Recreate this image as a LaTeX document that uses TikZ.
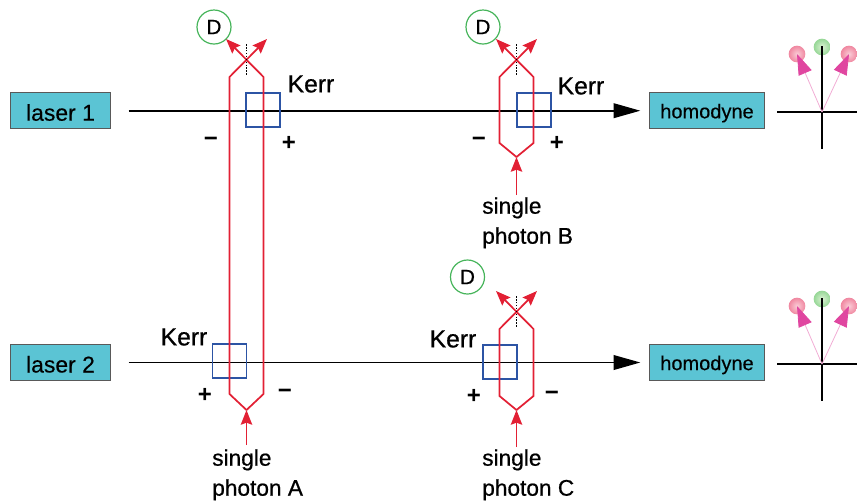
\documentclass[tikz,border=0pt]{standalone}
\usepackage{fontspec}
\setmainfont{Liberation Sans}
\newfontfamily\heavyfont[FakeBold=0.7]{Liberation Sans}
\newfontfamily\mediumfont[FakeBold=0.3]{Liberation Sans}
\usepackage{xcolor}
\usetikzlibrary{arrows.meta,positioning,shapes,calc}
\definecolor{boxteal}{RGB}{91,196,212}
\definecolor{armred}{RGB}{226,32,52}
\definecolor{kerrblue}{RGB}{44,84,164}
\definecolor{detgreen}{RGB}{70,180,90}
\definecolor{phasorpink}{RGB}{224,70,160}
\definecolor{ballpinkin}{RGB}{250,205,215}
\definecolor{ballpinkout}{RGB}{240,135,160}
\definecolor{ballgreenin}{RGB}{220,242,212}
\definecolor{ballgreenout}{RGB}{150,215,150}

\begin{document}
\begin{tikzpicture}[x=0.75pt, y=-0.75pt,
    box/.style={rectangle, draw=black!65, fill=boxteal, line width=0.8pt, minimum height=27pt, inner sep=0pt},
    laserbox/.style={box, minimum width=74.5pt, text height=17pt, text depth=2pt, font=\mediumfont\fontsize{17.2}{17.2}\selectfont},
    homodynebox/.style={box, minimum width=86.25pt, text height=15pt, text depth=3.6pt, font=\mediumfont\fontsize{15}{15}\selectfont},
    beam/.style={-{Triangle[length=20pt, width=11pt]}, line width=1.2pt},
    kerrbox/.style={rectangle, draw=kerrblue, line width=1.1pt, minimum size=25.5pt, inner sep=0pt},
    arm/.style={-{Stealth[length=11pt, width=8.5pt, inset=1.5pt]}, armred, line width=1.3pt},
    detector/.style={circle, draw=detgreen, line width=0.9pt, minimum size=25.5pt, inner sep=0pt, font=\heavyfont\fontsize{15.5}{15.5}\selectfont},
    axis/.style={black, line width=1.2pt},
    phasor/.style={-{Triangle[length=15.5pt, width=10.5pt, color=phasorpink]}, phasorpink!45, line width=0.6pt},
    ballpink/.style={circle, minimum size=12.5pt, inner sep=0pt, shading=radial, inner color=ballpinkin, outer color=ballpinkout},
    ballgreen/.style={circle, minimum size=12.5pt, inner sep=0pt, shading=radial, inner color=ballgreenin, outer color=ballgreenout},
    kerrlabel/.style={font=\heavyfont\fontsize{18.5}{18.5}\selectfont},
    signlabel/.style={font=\fontsize{18}{18}\selectfont\bfseries},
    photonlabel/.style={font=\heavyfont\fontsize{17}{22.5}\selectfont, align=left, anchor=north west, inner sep=0pt}
]
    \useasboundingbox (0,0) rectangle (857,501);

    % Lasers and homodyne boxes
    \node[laserbox] (laser1) at (60.5,110.7) {laser 1\hspace{9pt}};
    \node[laserbox] (laser2) at (60.5,362.5) {laser 2\hspace{9pt}};
    \node[homodynebox] (homodyne1) at (707,110.7) {homodyne\hspace{1.5pt}};
    \node[homodynebox] (homodyne2) at (707,362.5) {homodyne\hspace{1.5pt}};

    % Probe beams
    \draw[beam, shorten <=13.5pt, shorten >=6.5pt] (laser1) -- (homodyne1);
    \draw[beam, shorten <=13.5pt, shorten >=6.5pt] (laser2) -- (homodyne2);

    % Kerr cells
    \node[kerrbox] (kerrA1) at (263,110) {};
    \node[kerrbox] (kerrB) at (534,110) {};
    \node[kerrbox] (kerrA2) at (229.5,361) {};
    \node[kerrbox] (kerrC) at (500,362) {};
    \node[kerrlabel] (kerrtextA1) at (311,84) {Kerr};
    \node[kerrlabel] (kerrtextB) at (581,86) {Kerr};
    \node[kerrlabel] (kerrtextA2) at (184,337) {Kerr};
    \node[kerrlabel] (kerrtextC) at (453,339) {Kerr};

    % Ports of the interferometers
    \coordinate (inA) at (246.5,445);
    \coordinate (botA) at (246.5,410);
    \coordinate (outAl) at (226,39);
    \coordinate (outAr) at (267,39);
    \coordinate (inB) at (516.5,195);
    \coordinate (botB) at (516.5,157);
    \coordinate (outBl) at (496,39);
    \coordinate (outBr) at (537,39);
    \coordinate (inC) at (516.5,447);
    \coordinate (botC) at (516.5,410);
    \coordinate (outCl) at (496,291);
    \coordinate (outCr) at (537,291);

    % Interferometer A
    \draw[arm] (inA) -- (botA);
    \draw[arm] (botA) -- (229.5,394) -- (229.5,77) -- (outAr);
    \draw[arm] (botA) -- (263.5,394) -- (263.5,77) -- (outAl);
    \draw[densely dotted, line width=1.2pt] (246.5,44) -- (246.5,76);

    % Interferometer B
    \draw[arm] (inB) -- (botB);
    \draw[arm] (botB) -- (499.5,143) -- (499.5,77) -- (outBr);
    \draw[arm] (botB) -- (533.5,143) -- (533.5,77) -- (outBl);
    \draw[densely dotted, line width=1.2pt] (516.5,44) -- (516.5,76);

    % Interferometer C
    \draw[arm] (inC) -- (botC);
    \draw[arm] (botC) -- (499.5,396) -- (499.5,329) -- (outCr);
    \draw[arm] (botC) -- (533.5,396) -- (533.5,329) -- (outCl);
    \draw[densely dotted, line width=1.2pt] (516.5,296) -- (516.5,328);

    % Detectors
    \node[detector] (detA) at (214,27) {D};
    \node[detector] (detB) at (483,27) {D};
    \node[detector] (detC) at (467.5,277) {D};

    % Signs
    \node[signlabel] (minusA1) at (211,142) {−};
    \node[signlabel] (plusA1) at (289,143) {+};
    \node[signlabel] (minusB) at (479,142) {−};
    \node[signlabel] (plusB) at (557,143) {+};
    \node[signlabel] (plusA2) at (205,395) {+};
    \node[signlabel] (minusA2) at (285,394) {−};
    \node[signlabel] (plusC) at (474,396) {+};
    \node[signlabel] (minusC) at (552,396) {−};

    % Input labels
    \node[photonlabel] (photonB) at (482,197) {single\\photon B};
    \node[photonlabel] (photonA) at (212,449) {single\\photon A};
    \node[photonlabel] (photonC) at (482,449) {single\\photon C};

    % Phase diagram 1
    \coordinate (origin1) at (822,112);
    \node[ballpink] (ball1l) at (797,54) {};
    \node[ballgreen] (ball1m) at (822,47) {};
    \node[ballpink] (ball1r) at (849,54) {};
    \draw[axis] (777,112) -- (857,112);
    \draw[axis] (822,46) -- (822,149);
    \draw[phasor] (origin1) -- (ball1l.center);
    \draw[phasor] (origin1) -- (ball1r.center);

    % Phase diagram 2
    \coordinate (origin2) at (822,364);
    \node[ballpink] (ball2l) at (797,306) {};
    \node[ballgreen] (ball2m) at (822,299) {};
    \node[ballpink] (ball2r) at (849,306) {};
    \draw[axis] (777,364) -- (857,364);
    \draw[axis] (822,298) -- (822,401);
    \draw[phasor] (origin2) -- (ball2l.center);
    \draw[phasor] (origin2) -- (ball2r.center);
\end{tikzpicture}
\end{document}
